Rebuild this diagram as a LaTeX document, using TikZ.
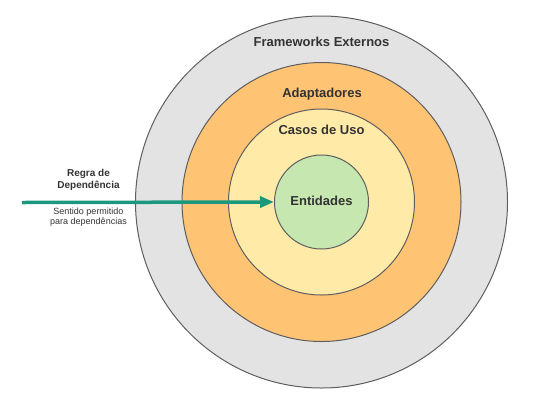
\documentclass[tikz,border=0pt]{standalone}
\usepackage{fontspec}
\setmainfont{Liberation Sans}
\usetikzlibrary{arrows.meta}
\definecolor{ringgray}{HTML}{E3E3E3}
\definecolor{ringorange}{HTML}{FFC374}
\definecolor{ringyellow}{HTML}{FFEAA8}
\definecolor{ringgreen}{HTML}{C6E7B0}
\definecolor{edgegray}{HTML}{5E5E5E}
\definecolor{txt}{HTML}{333333}
\definecolor{teal}{RGB}{27,152,126}
\begin{document}
\begin{tikzpicture}[x=1pt,y=-1pt,
  ring/.style={circle,draw=edgegray,line width=1pt,inner sep=0pt},
  ringlabel/.style={font=\bfseries\fontsize{13}{15}\selectfont,text=txt,inner sep=0pt,anchor=base},
  smalltitle/.style={font=\bfseries\fontsize{10}{11.5}\selectfont,text=txt,align=center,inner sep=0pt},
  smallnote/.style={font=\fontsize{9}{10}\selectfont,text=txt,align=center,inner sep=0pt},
  deparrow/.style={draw=teal,line width=3.5pt,-{Triangle[length=14pt,width=11pt]}}]
\useasboundingbox (0,0) rectangle (535,400);
\node[ring,fill=ringgray,minimum size=372pt] (outer) at (321.5,202) {};
\node[ring,fill=ringorange,minimum size=279pt] (adapt) at (321.5,202) {};
\node[ring,fill=ringyellow,minimum size=186pt] (casos) at (321.5,202) {};
\node[ring,fill=ringgreen,minimum size=94pt] (ent) at (321.5,202) {};
\node[ringlabel] (lblout) at (321.5,46.7) {Frameworks Externos};
\node[ringlabel] (lbladapt) at (322,97.5) {Adaptadores};
\node[ringlabel] (lblcasos) at (321.5,134.5) {Casos de Uso};
\node[ringlabel] (lblent) at (321.5,205.5) {Entidades};
\coordinate (start) at (22,202.5);
\draw[deparrow] (start) -- (ent.west);
\node[smalltitle] (regra) at (88.5,180) {Regra de\\Dependência};
\node[smallnote] (sentido) at (88.5,217) {Sentido permitido\\para dependências};
\end{tikzpicture}
\end{document}
